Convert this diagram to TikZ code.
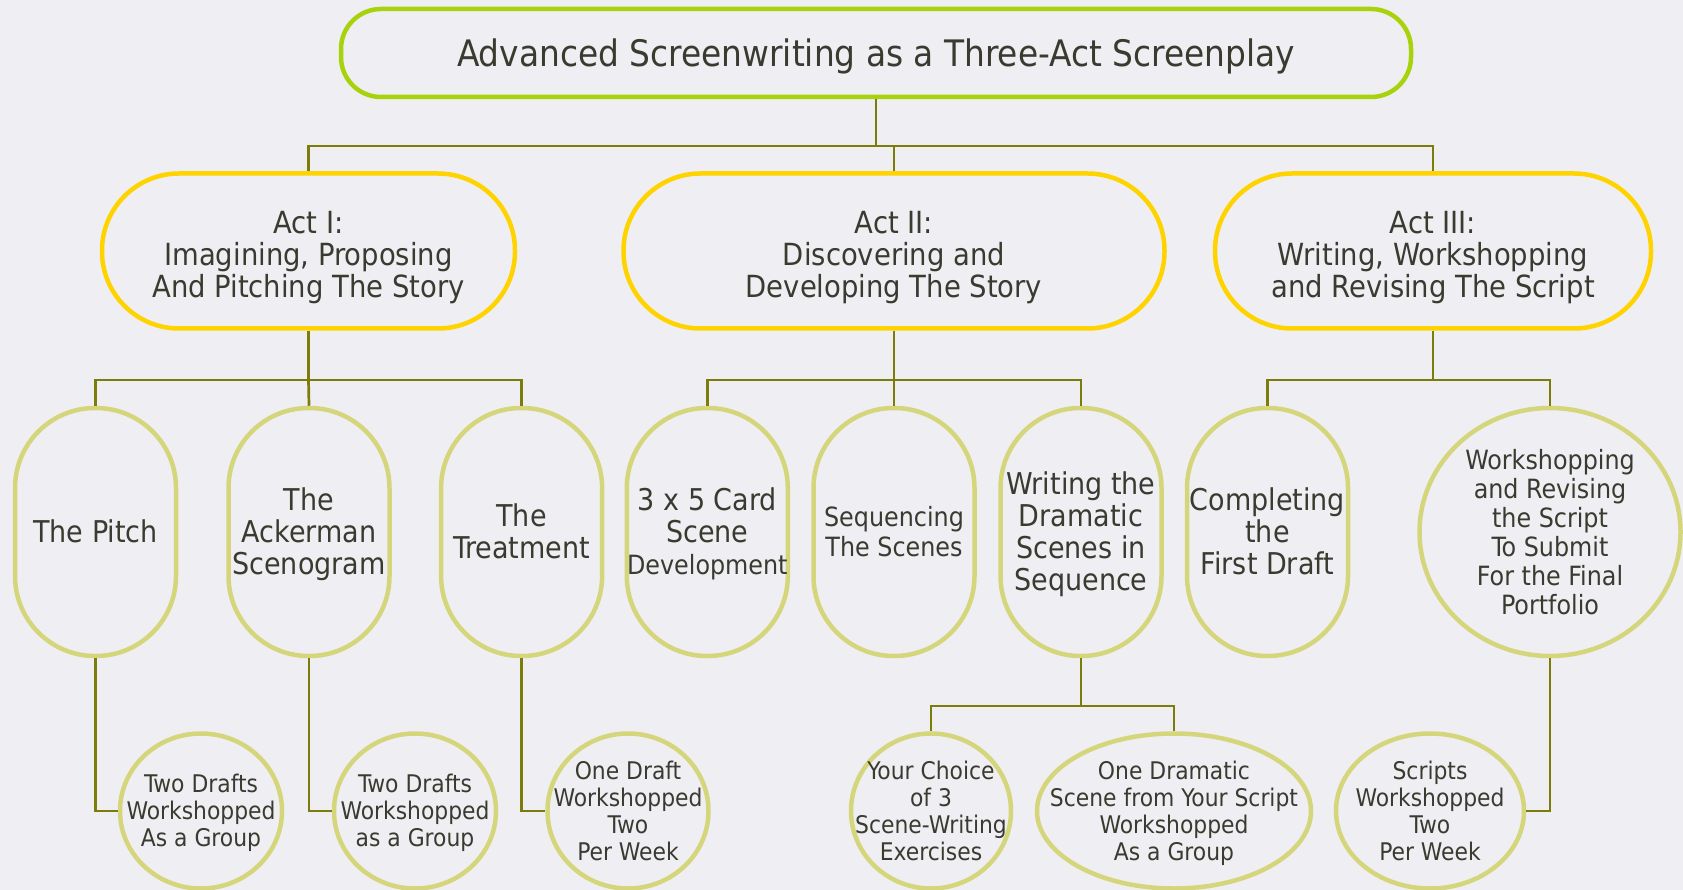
\documentclass[tikz,border=0pt]{standalone}
\usepackage{fontspec}
\setmainfont{DejaVu Sans Condensed}
\usetikzlibrary{shapes.geometric}
\definecolor{bgc}{HTML}{EFEFF3}
\definecolor{limeb}{HTML}{A8D30C}
\definecolor{goldb}{HTML}{FFD300}
\definecolor{khakib}{HTML}{D5D57C}
\definecolor{olivec}{HTML}{7C7C0A}
\definecolor{txtc}{HTML}{3A3A30}
\newcommand\Lt{\rule{0pt}{0.95em}}
\newcommand\Lta{\rule{0pt}{1.15em}}
\newcommand\Lb{\rule[-0.23em]{0pt}{0.23em}}
\tikzset{
  base/.style={align=center, text=txtc, inner sep=0pt},
  titlebox/.style={base, draw=limeb, line width=4.5pt, rounded corners=40pt,
    minimum width=1070pt, minimum height=88pt, font=\fontsize{36.5}{40}\selectfont},
  actbox/.style={base, draw=goldb, line width=4.5pt, rounded corners=77pt,
    minimum width=#1, minimum height=155pt, font=\fontsize{30.5}{32}\selectfont},
  pillbox/.style={base, draw=khakib, line width=4.5pt, rounded corners=80pt,
    minimum width=161pt, minimum height=248pt, font=\fontsize{30}{32}\selectfont},
  ovalbox/.style={base, ellipse, inner sep=-50pt, draw=khakib, line width=4.5pt,
    minimum width=#1, minimum height=155pt, font=\fontsize{24.3}{27}\selectfont},
  conn/.style={draw=olivec, line width=2.7pt},
}
\begin{document}
\begin{tikzpicture}[x=1pt,y=-1pt]
\fill[bgc] (0,0) rectangle (1683,890);
\useasboundingbox (0,0) rectangle (1683,890);

% title and acts
\node[titlebox] (title) at (876,53) {\Lt Advanced Screenwriting as a Three-Act Screenplay\Lb};
\node[actbox=413pt] (act1) at (308.5,251) {\Lta Act I:\\Imagining, Proposing\\And Pitching The Story\Lb};
\node[actbox=541pt] (act2) at (894,251) {\Lta Act II:\\Discovering and\\Developing The Story\Lb};
\node[actbox=436pt] (act3) at (1433,251) {\Lta Act III:\\Writing, Workshopping\\and Revising The Script\Lb};

% level 2
\node[pillbox] (pitch) at (95.5,532) {\Lt The Pitch\Lb};
\node[pillbox] (acker) at (309,532) {\Lt The\\Ackerman\\Scenogram\Lb};
\node[pillbox] (treat) at (521.6,532) {\Lt The\\Treatment\Lb};
\node[pillbox] (card) at (707.3,532) {\Lt 3 x 5 Card\\Scene\\{\fontsize{26.5}{28}\selectfont Development}\Lb};
\node[pillbox, font=\fontsize{26.5}{30}\selectfont] (seq) at (894,532) {\Lt Sequencing\\The Scenes\Lb};
\node[pillbox] (writ) at (1081,532) {\Lt Writing the\\Dramatic\\Scenes in\\Sequence\Lb};
\node[pillbox] (compl) at (1267.5,532) {\Lt Completing\\the\\First Draft\Lb};
\node[ovalbox=261pt, minimum height=248pt, font=\fontsize{26.5}{29}\selectfont] (wsr) at (1550,532)
  {\Lt Workshopping\\and Revising\\the Script\\To Submit\\For the Final\\Portfolio\Lb};

% level 3
\node[ovalbox=162pt] (td1) at (201,811) {\Lt Two Drafts\\Workshopped\\As a Group\Lb};
\node[ovalbox=162pt] (td2) at (415,811) {\Lt Two Drafts\\Workshopped\\as a Group\Lb};
\node[ovalbox=161pt] (od) at (628,811) {\Lt One Draft\\Workshopped\\Two\\Per Week\Lb};
\node[ovalbox=160pt] (yc) at (931,811) {\Lt Your Choice\\of 3\\Scene-Writing\\Exercises\Lb};
\node[ovalbox=274pt] (odr) at (1174,811) {\Lt One Dramatic\\Scene from Your Script\\Workshopped\\As a Group\Lb};
\node[ovalbox=188pt] (scr) at (1430,811) {\Lt Scripts\\Workshopped\\Two\\Per Week\Lb};

% junctions
\coordinate (j0) at (876,146);
\coordinate (j1) at (308.5,380);
\coordinate (j2) at (894,380);
\coordinate (j3) at (1433,380);
\coordinate (j4) at (1081,706);

% connectors
\draw[conn] (title.south) -- (j0);
\draw[conn] (act1.north) |- (j0);
\draw[conn] (act3.north) |- (j0);
\draw[conn] (act2.north) -- (act2.north |- j0);

\draw[conn] (act1.south) -- (j1);
\draw[conn] (pitch.north) |- (j1);
\draw[conn] (treat.north) |- (j1);
\draw[conn] (acker.north) -- (j1);

\draw[conn] (act2.south) -- (j2);
\draw[conn] (card.north) |- (j2);
\draw[conn] (writ.north) |- (j2);
\draw[conn] (seq.north) -- (j2);

\draw[conn] (act3.south) -- (j3);
\draw[conn] (compl.north) |- (j3);
\draw[conn] (wsr.north) |- (j3);

\draw[conn] (pitch.south) |- (td1.west);
\draw[conn] (acker.south) |- (td2.west);
\draw[conn] (treat.south) |- (od.west);
\draw[conn] (wsr.south) |- (scr.east);

\draw[conn] (writ.south) -- (j4);
\draw[conn] (yc.north) |- (j4);
\draw[conn] (odr.north) |- (j4);
\end{tikzpicture}
\end{document}
